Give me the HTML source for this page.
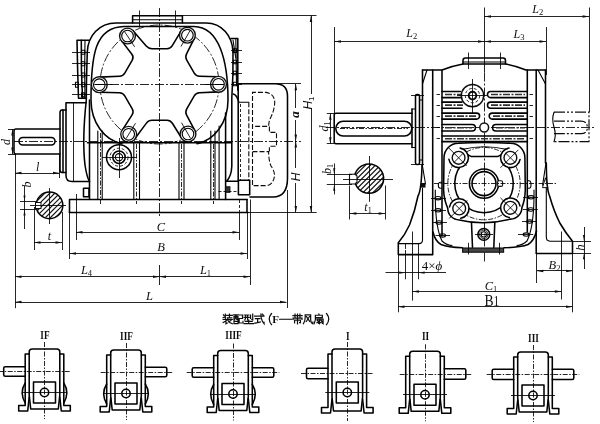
<!DOCTYPE html>
<html><head><meta charset="utf-8"><title>drawing</title>
<style>
html,body{margin:0;padding:0;background:#fff;}
body{width:600px;height:424px;overflow:hidden;font-family:"Liberation Serif",serif;}
svg{display:block;}
.k{fill:none;stroke:#000;stroke-width:1.55;stroke-linecap:round;stroke-linejoin:round}
.m{fill:none;stroke:#000;stroke-width:1.1;stroke-linecap:round;stroke-linejoin:round}
.t{fill:none;stroke:#000;stroke-width:0.85}
.c{fill:none;stroke:#000;stroke-width:0.85;stroke-dasharray:9 2 2 2}
.c2{fill:none;stroke:#000;stroke-width:0.85;stroke-dasharray:5 1.5 1.5 1.5}
.d{fill:none;stroke:#111;stroke-width:1.1;stroke-dasharray:5 2}
.dt{fill:none;stroke:#000;stroke-width:0.85;stroke-dasharray:3 2}
.a{fill:#111;stroke:none}
.ph{fill:none;stroke:#111;stroke-width:1.2;stroke-dasharray:11 2 2 2 2 2}
.k2{fill:none;stroke:#111;stroke-width:2}
.f{fill:#111;stroke:none}
.w{fill:#fff;stroke:#111;stroke-width:1.4}
.h{fill:none;stroke:#111;stroke-width:1.15}
text{fill:#111;font-family:"Liberation Serif",serif;}
text.i{font-style:italic}
text.n{font-style:normal}
text.si{font-style:italic;font-family:"Liberation Sans",sans-serif}
.cj{fill:none;stroke:#111;stroke-width:1.2;stroke-linecap:square;stroke-linejoin:miter}
</style></head><body>
<svg width="600" height="424" viewBox="0 0 600 424">
<rect x="0" y="0" width="600" height="424" fill="#fff"/>
<g filter="url(#soft)">
<path class="k" d="M132.6 23 V15.8 H182.4 V23"/>
<line class="m" x1="132.6" y1="19.7" x2="182.4" y2="19.7"/>
<line class="t" x1="139.5" y1="10.5" x2="139.5" y2="27.5"/>
<line class="t" x1="175.5" y1="10.5" x2="175.5" y2="27.5"/>
<line class="t" x1="182" y1="15.5" x2="316.5" y2="15.5"/>
<path class="k" d="M89.5 181.4 Q87 178 85 165 Q82 140 86.3 100 C86.3 80 87 62 87.3 52 C87.8 36 99 23 116 23 H206 C222 23 232.5 36 233 52"/>
<path class="k" d="M122 143.7 C104 140 91 122 91 100 C91 55 95 27 124 26.5 H194 C219 27 228 60 228 100 C228 122 215 140 197 143.7"/>
<circle class="c" cx="159.5" cy="84.5" r="59.5"/>
<path class="k" d="M133.25 31.03 L146.21 46.05 Q148.5 48.7 152.0 48.7 L167.0 48.7 Q170.5 48.7 172.29 45.69 L180.87 31.31"/>
<path class="k" d="M194.2 38.59 L186.56 53.94 Q185.0 57.07 186.75 60.1 L194.25 73.1 Q196.0 76.13 199.5 76.22 L218.69 76.7"/>
<path class="k" d="M218.82 91.89 L199.5 92.72 Q196.0 92.87 194.25 95.9 L186.75 108.9 Q185.0 111.93 186.63 115.03 L194.73 130.47"/>
<path class="k" d="M181.55 138.02 L172.35 123.27 Q170.5 120.3 167.0 120.3 L152.0 120.3 Q148.5 120.3 146.42 123.11 L134.81 138.82"/>
<path class="k" d="M122.3 130.2 L132.11 114.88 Q134.0 111.93 132.25 108.9 L124.75 95.9 Q123.0 92.87 119.5 92.79 L99.12 92.3"/>
<path class="k" d="M98.99 77.11 L119.5 76.27 Q123.0 76.13 124.75 73.1 L132.25 60.1 Q134.0 57.07 131.88 54.29 L121.45 40.61"/>
<circle class="w" cx="127.5" cy="36" r="7.9"/>
<circle class="m" cx="127.5" cy="36" r="5.8"/>
<line class="t" x1="134.7" y1="46.9" x2="124.7" y2="31.8"/>
<circle class="w" cx="187.4" cy="35.2" r="7.9"/>
<circle class="m" cx="187.4" cy="35.2" r="5.8"/>
<line class="t" x1="181.0" y1="46.5" x2="189.9" y2="30.8"/>
<circle class="w" cx="218.5" cy="84.3" r="7.9"/>
<circle class="m" cx="218.5" cy="84.3" r="5.8"/>
<line class="t" x1="205.5" y1="84.5" x2="223.5" y2="84.5"/>
<circle class="w" cx="188" cy="134" r="7.9"/>
<circle class="m" cx="188" cy="134" r="5.8"/>
<line class="t" x1="181.5" y1="122.7" x2="190.5" y2="138.3"/>
<circle class="w" cx="128.7" cy="134.3" r="7.9"/>
<circle class="m" cx="128.7" cy="134.3" r="5.8"/>
<line class="t" x1="135.5" y1="123.2" x2="126.1" y2="138.6"/>
<circle class="w" cx="99.3" cy="84.7" r="7.9"/>
<circle class="m" cx="99.3" cy="84.7" r="5.8"/>
<line class="t" x1="112.3" y1="84.5" x2="94.3" y2="84.5"/>
<line class="c" x1="95" y1="84.5" x2="224" y2="84.5"/>
<line class="c" x1="159.5" y1="8" x2="159.5" y2="218"/>
<line class="t" x1="159.5" y1="265" x2="159.5" y2="285"/>
<line class="k" x1="87.5" y1="142.8" x2="231.5" y2="142.8"/>
<line class="c" x1="14" y1="141.5" x2="301" y2="141.5"/>
<path class="k" d="M89 40.2 H77 Q77.5 70 78.5 98.2 H86.3"/>
<path class="k" d="M81.3 40.2 Q81 70 82.5 98"/>
<path class="m" d="M85 40.2 Q84.3 70 85 98"/>
<line class="t" x1="72" y1="52.5" x2="90" y2="52.5"/>
<rect class="m" x="81.5" y="50.3" width="3.3" height="4" rx="0"/>
<line class="t" x1="72" y1="63.5" x2="90" y2="63.5"/>
<rect class="m" x="81.5" y="61.7" width="3.3" height="4" rx="0"/>
<line class="t" x1="72" y1="75.5" x2="90" y2="75.5"/>
<rect class="m" x="81.5" y="73" width="3.3" height="4" rx="0"/>
<line class="t" x1="72" y1="84.5" x2="90" y2="84.5"/>
<rect class="m" x="81.5" y="82.8" width="3.3" height="4" rx="0"/>
<line class="t" x1="72" y1="94.5" x2="90" y2="94.5"/>
<rect class="m" x="81.5" y="92.9" width="3.3" height="4" rx="0"/>
<rect class="m" x="75.5" y="82.3" width="3" height="5" rx="0"/>
<path class="k" d="M231 38.5 H237.8 V90 M233.3 94 Q237 95 239 102.6"/>
<path class="m" d="M235.8 38.5 L236.5 84"/>
<path class="m" d="M233 40 L235.8 58"/>
<line class="t" x1="231" y1="50.5" x2="242" y2="50.5"/>
<rect class="m" x="233.3" y="48.800000000000004" width="3.3" height="3.6" rx="0"/>
<line class="t" x1="231" y1="62.5" x2="242" y2="62.5"/>
<rect class="m" x="233.3" y="60.2" width="3.3" height="3.6" rx="0"/>
<line class="t" x1="231" y1="73.5" x2="242" y2="73.5"/>
<rect class="m" x="233.3" y="71.2" width="3.3" height="3.6" rx="0"/>
<line class="t" x1="231" y1="84.5" x2="242" y2="84.5"/>
<rect class="m" x="233.3" y="82.2" width="3.3" height="3.6" rx="0"/>
<path class="k" d="M86.3 102.7 H66 V175.5 Q66 181.5 72 181.5 H89.5"/>
<line class="t" x1="73.5" y1="102.7" x2="73.5" y2="181.5"/>
<path class="k" d="M66 110 H62 Q60 110 60 113 V170 Q60 172.5 62 172.5 H66"/>
<line class="k" x1="63" y1="110" x2="63" y2="172.5"/>
<path class="k" d="M60 129 H16 Q14 129 14 131 V152 Q14 154 16 154 H60"/>
<rect class="k" x="19" y="137.5" width="36" height="7.5" rx="3.7"/>
<line class="m" x1="97.8" y1="131" x2="97.8" y2="199.5"/>
<line class="m" x1="102.2" y1="131" x2="102.2" y2="199.5"/>
<line class="k" x1="89.5" y1="100" x2="89.5" y2="199"/>
<line class="m" x1="133.8" y1="143" x2="133.8" y2="199.5"/>
<line class="m" x1="139.5" y1="143" x2="139.5" y2="199.5"/>
<line class="m" x1="179" y1="143" x2="179" y2="199.5"/>
<line class="m" x1="184" y1="143" x2="184" y2="199.5"/>
<line class="m" x1="210.8" y1="131" x2="210.8" y2="199.5"/>
<line class="m" x1="215" y1="131" x2="215" y2="199.5"/>
<line class="c2" x1="100.5" y1="133" x2="100.5" y2="204"/>
<line class="c2" x1="136.5" y1="144" x2="136.5" y2="204"/>
<line class="c2" x1="181.5" y1="144" x2="181.5" y2="204"/>
<line class="c2" x1="213.5" y1="144" x2="213.5" y2="204"/>
<rect class="k" x="83.5" y="188.2" width="5.5" height="8.5" rx="0"/>
<circle class="k" cx="119" cy="157.2" r="12.5"/>
<circle class="dt" cx="119" cy="157.2" r="9"/>
<circle class="k" cx="119" cy="157.2" r="6.2"/>
<circle class="m" cx="119" cy="157.2" r="3.6"/>
<line class="t" x1="119.5" y1="138" x2="119.5" y2="178"/>
<line class="t" x1="102" y1="157.5" x2="137" y2="157.5"/>
<line class="k" x1="225.6" y1="113" x2="225.6" y2="199.5"/>
<line class="m" x1="219.1" y1="126" x2="219.1" y2="199.5"/>
<path class="k" d="M233 52 Q233.4 75 231.8 98 V166 Q231.5 176 226.5 181.3 H238.4"/>
<rect x="225.6" y="186.8" width="4.3" height="5.5" fill="#333" stroke="#111" stroke-width="1"/>
<line class="dt" x1="218.5" y1="191.5" x2="238.4" y2="191.5"/>
<line class="k" x1="238.2" y1="83.8" x2="238.2" y2="180.3"/>
<path class="m" d="M240.3 102.2 H248.8"/>
<line class="dt" x1="240.5" y1="104" x2="240.5" y2="180"/>
<line class="d" x1="248.8" y1="102.2" x2="248.8" y2="180"/>
<rect class="k" x="238.4" y="180.3" width="11.3" height="14.4" rx="0"/>
<path class="k" d="M237.8 83.8 H275 Q287.5 83.8 287.5 96 V178 Q287.5 197 273 197 H250"/>
<line class="t" x1="275" y1="83.5" x2="301" y2="83.5"/>
<path class="d" d="M252.5 185 V92.4 H266 Q274.7 94 274.7 102.5 Q274.5 110 270.5 118 Q268.6 122 268.6 126.4 H252.5"/>
<path class="d" d="M252.5 151.6 H268.6 Q268.6 160 271 166 Q275 172 274.5 176 Q273 185.6 266 185.6 H252.5"/>
<path class="d" d="M269.4 126.4 V132.4 H276.5 V146.3 H269.4 V151.6"/>
<path class="k" d="M69.5 199.5 H247 M69.5 199.5 V212.5"/>
<line class="k" x1="69.5" y1="212.5" x2="248" y2="212.5"/>
<line class="t" x1="248" y1="212.5" x2="316.7" y2="212.5"/>
<line class="k" x1="247" y1="199.5" x2="247" y2="212.5"/>
<clipPath id="kc1"><circle cx="49.5" cy="205.4" r="13"/></clipPath>
<g clip-path="url(#kc1)"><line class="h" x1="-12.5" y1="225.5" x2="27.5" y2="185.5"/><line class="h" x1="-7.5" y1="225.5" x2="32.5" y2="185.5"/><line class="h" x1="-2.5" y1="225.5" x2="37.5" y2="185.5"/><line class="h" x1="2.5" y1="225.5" x2="42.5" y2="185.5"/><line class="h" x1="7.5" y1="225.5" x2="47.5" y2="185.5"/><line class="h" x1="12.5" y1="225.5" x2="52.5" y2="185.5"/><line class="h" x1="17.5" y1="225.5" x2="57.5" y2="185.5"/><line class="h" x1="22.5" y1="225.5" x2="62.5" y2="185.5"/><line class="h" x1="27.5" y1="225.5" x2="67.5" y2="185.5"/><line class="h" x1="32.5" y1="225.5" x2="72.5" y2="185.5"/><line class="h" x1="37.5" y1="225.5" x2="77.5" y2="185.5"/><line class="h" x1="42.5" y1="225.5" x2="82.5" y2="185.5"/><line class="h" x1="47.5" y1="225.5" x2="87.5" y2="185.5"/><line class="h" x1="52.5" y1="225.5" x2="92.5" y2="185.5"/><line class="h" x1="57.5" y1="225.5" x2="97.5" y2="185.5"/><line class="h" x1="62.5" y1="225.5" x2="102.5" y2="185.5"/><line class="h" x1="67.5" y1="225.5" x2="107.5" y2="185.5"/></g>
<circle class="k" cx="49.5" cy="205.4" r="13.3"/>
<rect x="35.5" y="202.5" width="5.5" height="6" fill="#fff" stroke="#111" stroke-width="1"/>
<line class="t" x1="49.5" y1="188" x2="49.5" y2="224"/>
<line class="t" x1="30" y1="205.5" x2="66" y2="205.5"/>
<line class="t" x1="20" y1="201.5" x2="36" y2="201.5"/>
<line class="t" x1="20" y1="209.5" x2="36" y2="209.5"/>
<line class="t" x1="24.5" y1="186" x2="24.5" y2="229"/>
<polygon class="a" points="24.5,201.5 23.5,195.5 25.5,195.5"/>
<polygon class="a" points="24.5,209.5 23.5,215.5 25.5,215.5"/>
<text class="i" x="31" y="184.5" font-size="12" text-anchor="middle" transform="rotate(-90 31 184.5)">b</text>
<line class="t" x1="34.5" y1="207" x2="34.5" y2="250"/>
<line class="t" x1="62.5" y1="212" x2="62.5" y2="250"/>
<line class="t" x1="34" y1="242.5" x2="62" y2="242.5"/>
<polygon class="a" points="34,242.5 40.5,241.25 40.5,243.75"/>
<polygon class="a" points="62,242.5 55.5,241.25 55.5,243.75"/>
<text class="i" x="49.5" y="240" font-size="12" text-anchor="middle">t</text>
<line class="t" x1="8" y1="129.5" x2="14" y2="129.5"/>
<line class="t" x1="8" y1="154.5" x2="16" y2="154.5"/>
<line class="t" x1="12.5" y1="129" x2="12.5" y2="154"/>
<polygon class="a" points="12.5,129 11.25,135.5 13.75,135.5"/>
<polygon class="a" points="12.5,154 11.25,147.5 13.75,147.5"/>
<text class="i" x="10" y="142" font-size="12" text-anchor="middle" transform="rotate(-90 10 142)">d</text>
<line class="t" x1="15.5" y1="154" x2="15.5" y2="308.2"/>
<line class="t" x1="59.5" y1="154" x2="59.5" y2="178"/>
<line class="t" x1="15" y1="173.5" x2="59.5" y2="173.5"/>
<polygon class="a" points="15,173 21.5,171.75 21.5,174.25"/>
<polygon class="a" points="59.5,173 53.0,171.75 53.0,174.25"/>
<text class="i" x="37.6" y="170.5" font-size="12" text-anchor="middle">l</text>
<line class="t" x1="76.5" y1="194" x2="76.5" y2="240"/>
<line class="dt" x1="239.5" y1="200" x2="239.5" y2="213"/>
<line class="t" x1="239.5" y1="213" x2="239.5" y2="240"/>
<line class="t" x1="76" y1="232.5" x2="239" y2="232.5"/>
<polygon class="a" points="76,232.2 82.5,230.95 82.5,233.45"/>
<polygon class="a" points="239,232.2 232.5,230.95 232.5,233.45"/>
<text class="i" x="161" y="231.3" font-size="12.5" text-anchor="middle">C</text>
<line class="t" x1="69.5" y1="212.5" x2="69.5" y2="259"/>
<line class="t" x1="247.5" y1="212.5" x2="247.5" y2="259"/>
<line class="t" x1="69.5" y1="253.5" x2="247" y2="253.5"/>
<polygon class="a" points="69.5,253.4 76.0,252.15 76.0,254.65"/>
<polygon class="a" points="247,253.4 240.5,252.15 240.5,254.65"/>
<text class="i" x="161" y="250.8" font-size="12.5" text-anchor="middle">B</text>
<line class="t" x1="250.5" y1="199.5" x2="250.5" y2="285"/>
<line class="t" x1="15" y1="276.5" x2="159.5" y2="276.5"/>
<polygon class="a" points="15,276.8 21.5,275.55 21.5,278.05"/>
<polygon class="a" points="159.5,276.8 153.0,275.55 153.0,278.05"/>
<line class="t" x1="159.5" y1="276.5" x2="250" y2="276.5"/>
<polygon class="a" points="159.5,276.8 166.0,275.55 166.0,278.05"/>
<polygon class="a" points="250,276.8 243.5,275.55 243.5,278.05"/>
<text class="i" x="86.5" y="274" font-size="12.5" text-anchor="middle">L<tspan font-size="8.5" dy="2" font-style="normal">4</tspan></text>
<text class="i" x="205.5" y="274" font-size="12.5" text-anchor="middle">L<tspan font-size="8.5" dy="2" font-style="normal">1</tspan></text>
<line class="t" x1="287.5" y1="190" x2="287.5" y2="308"/>
<line class="t" x1="15" y1="302.5" x2="286.5" y2="302.5"/>
<polygon class="a" points="15,302 21.5,300.75 21.5,303.25"/>
<polygon class="a" points="286.5,302 280.0,300.75 280.0,303.25"/>
<text class="i" x="149.5" y="299.7" font-size="12.5" text-anchor="middle">L</text>
<line class="t" x1="295.5" y1="83.8" x2="295.5" y2="212.5"/>
<polygon class="a" points="295.8,83.8 294.55,90.3 297.05,90.3"/>
<polygon class="a" points="295.8,141 294.55,134.5 297.05,134.5"/>
<polygon class="a" points="295.8,141 294.55,147.5 297.05,147.5"/>
<polygon class="a" points="295.8,212.5 294.55,206.0 297.05,206.0"/>
<rect x="291" y="108" width="10" height="12" fill="#fff"/><rect x="290" y="168" width="12" height="15" fill="#fff"/>
<text class="i" x="299.3" y="114.5" font-size="13.5" font-weight="bold" text-anchor="middle" transform="rotate(-90 299.3 114.5)">a</text>
<text class="si" x="300" y="177" font-size="12" text-anchor="middle" transform="rotate(-90 300 177)">H</text>
<line class="t" x1="311.5" y1="15.5" x2="311.5" y2="212.5"/>
<polygon class="a" points="311,15.5 309.75,22.0 312.25,22.0"/>
<polygon class="a" points="311,212.5 309.75,206.0 312.25,206.0"/>
<rect x="309" y="94" width="5" height="15" fill="#fff"/>
<text class="si" x="312.3" y="103" font-size="12" text-anchor="middle" transform="rotate(-90 312.3 103)">H<tspan font-size="8" dy="2" font-style="normal">1</tspan></text>
<path class="k" d="M463 64 V60.5 Q463 58 465.5 58 H503 Q505.5 58 505.5 60.5 V64"/>
<line class="m" x1="463" y1="62" x2="505.5" y2="62"/>
<line class="t" x1="468.5" y1="52.5" x2="468.5" y2="69"/>
<line class="t" x1="500.5" y1="52.5" x2="500.5" y2="69"/>
<path class="k" d="M422.5 70 H442 Q452 66 463 64 H505.5 Q516 66 526 70 H545.5"/>
<path class="k" d="M422.5 70 V165"/>
<line class="k" x1="432.7" y1="70" x2="432.7" y2="254.6"/>
<line class="k" x1="442" y1="70.5" x2="442" y2="236"/>
<line class="k" x1="527.3" y1="70" x2="527.3" y2="232"/>
<line class="k" x1="536.2" y1="70" x2="536.2" y2="253.4"/>
<path class="k" d="M545.5 70 V163"/>
<path class="m" d="M538 70 L545.5 84"/>
<path class="m" d="M427 70 L422.6 83.5"/>
<line class="t" x1="484.5" y1="7.5" x2="484.5" y2="72.5"/>
<line class="c" x1="484.5" y1="72.5" x2="484.5" y2="262"/>
<line class="c" x1="326" y1="127.5" x2="596" y2="127.5"/>
<path class="k" d="M442 91.4 H460.5 M460.5 97.6 H442"/>
<path class="k" d="M490.6 91.4 H527.3 M527.3 97.6 H490.6 A3.0999999999999943 3.0999999999999943 0 0 1 490.6 91.4"/>
<path class="k" d="M442 102.1 H462 M462 108.2 H442"/>
<path class="k" d="M490.55 102.1 H527.3 M527.3 108.2 H490.55 A3.0500000000000043 3.0500000000000043 0 0 1 490.55 102.1"/>
<path class="k" d="M442 113.1 H476.6 A3.0 3.0 0 0 1 476.6 119.1 H442"/>
<path class="k" d="M492.2 113.1 H527.3 M527.3 119.1 H492.2 A3.0 3.0 0 0 1 492.2 113.1"/>
<path class="k" d="M442 124.4 H472.09999999999997 A3.299999999999997 3.299999999999997 0 0 1 472.09999999999997 131 H442"/>
<path class="k" d="M495.90000000000003 124.4 H527.3 M527.3 131 H495.90000000000003 A3.299999999999997 3.299999999999997 0 0 1 495.90000000000003 124.4"/>
<path class="k" d="M442 136 H527.3 M527.3 141.6 H442"/>
<line x1="445" y1="94.5" x2="461" y2="94.5" stroke="#333" stroke-width="1.6" stroke-dasharray="7 1.5 2 1.5"/>
<line x1="491" y1="94.5" x2="525" y2="94.5" stroke="#333" stroke-width="1.6" stroke-dasharray="7 1.5 2 1.5"/>
<line class="t" x1="436.5" y1="94.5" x2="440" y2="94.5"/>
<line class="t" x1="529.5" y1="94.5" x2="533" y2="94.5"/>
<line x1="445" y1="105.15" x2="463" y2="105.15" stroke="#333" stroke-width="1.6" stroke-dasharray="7 1.5 2 1.5"/>
<line x1="491" y1="105.15" x2="525" y2="105.15" stroke="#333" stroke-width="1.6" stroke-dasharray="7 1.5 2 1.5"/>
<line class="t" x1="436.5" y1="105.5" x2="440" y2="105.5"/>
<line class="t" x1="529.5" y1="105.5" x2="533" y2="105.5"/>
<line x1="445" y1="116.1" x2="477" y2="116.1" stroke="#333" stroke-width="1.6" stroke-dasharray="7 1.5 2 1.5"/>
<line x1="493" y1="116.1" x2="525" y2="116.1" stroke="#333" stroke-width="1.6" stroke-dasharray="7 1.5 2 1.5"/>
<line class="t" x1="436.5" y1="116.5" x2="440" y2="116.5"/>
<line class="t" x1="529.5" y1="116.5" x2="533" y2="116.5"/>
<line x1="445" y1="127.7" x2="472" y2="127.7" stroke="#333" stroke-width="1.6" stroke-dasharray="7 1.5 2 1.5"/>
<line x1="496" y1="127.7" x2="525" y2="127.7" stroke="#333" stroke-width="1.6" stroke-dasharray="7 1.5 2 1.5"/>
<line class="t" x1="436.5" y1="127.5" x2="440" y2="127.5"/>
<line class="t" x1="529.5" y1="127.5" x2="533" y2="127.5"/>
<line x1="445" y1="138.8" x2="525" y2="138.8" stroke="#333" stroke-width="1.6" stroke-dasharray="7 1.5 2 1.5"/>
<line class="t" x1="436.5" y1="138.5" x2="440" y2="138.5"/>
<line class="t" x1="529.5" y1="138.5" x2="533" y2="138.5"/>
<circle cx="472.5" cy="95.6" r="11.2" fill="#fff" stroke="#111" stroke-width="1.5"/>
<circle class="dt" cx="472.5" cy="95.6" r="7.2"/>
<circle class="k2" cx="472.5" cy="95.6" r="3.8"/>
<line class="t" x1="472.5" y1="79" x2="472.5" y2="113"/>
<line class="t" x1="457" y1="95.5" x2="488" y2="95.5"/>
<circle cx="484.2" cy="127.5" r="4.4" fill="#fff" stroke="#111" stroke-width="1.5"/>
<path class="k" d="M412 113.3 H336 Q334.2 113.3 334.2 115 V142 Q334.2 143.7 336 143.7 H412"/>
<rect class="k" x="335.8" y="121.2" width="76" height="14.8" rx="7.4"/>
<line class="c2" x1="340" y1="128.5" x2="408" y2="128.5"/>
<path class="k" d="M412 109 V147.5"/>
<rect class="k" x="415.5" y="94.5" width="4" height="70" rx="1.5"/>
<line class="m" x1="419.5" y1="100" x2="422.5" y2="100"/>
<line class="m" x1="419.5" y1="160" x2="422.5" y2="160"/>
<line class="m" x1="412" y1="109" x2="415.5" y2="109"/>
<line class="m" x1="412" y1="147.5" x2="415.5" y2="147.5"/>
<line class="t" x1="411" y1="95.5" x2="424" y2="95.5"/>
<line class="t" x1="411" y1="164.5" x2="424" y2="164.5"/>
<path class="ph" d="M554 112.2 H589 V141.7 H554"/>
<path class="m" d="M554 112.2 Q551.5 119 554 127 Q556.5 135 554 141.7"/>
<path class="ph" d="M554 121.2 H581 Q587.3 121.2 587.3 127.5 Q587.3 133.7 581 133.7 H554"/>
<path class="k" d="M458.5 143.3 Q484 141.8 510.4 143.3 A14.5 14.5 0 0 1 524.9 157.8 L525.3 190 Q525 200 521.9 207.6 A11.5 11.5 0 0 1 510.4 219.1 Q484 226 459.3 219.9 A11.5 11.5 0 0 1 447.8 208.4 Q444 200 443.6 190 L444 157.8 A14.5 14.5 0 0 1 458.5 143.3 Z"/>
<path class="m" d="M463 149.3 Q484 144.3 506 149.3"/>
<circle class="c2" cx="484" cy="183.6" r="36.2"/>
<path class="k" d="M502.8 161.2 A29.2 29.2 0 1 1 465.2 161.2"/>
<path class="k" d="M465 153.5 L471 156.4 H498 L504 153.5"/>
<circle cx="458.6" cy="157.8" r="9.8" fill="#fff" stroke="none"/>
<path class="k" d="M460.20 148.13 A9.8 9.8 0 1 1 448.91 159.25"/>
<circle cx="510.4" cy="157.8" r="9.8" fill="#fff" stroke="none"/>
<path class="k" d="M520.06 159.44 A9.8 9.8 0 1 1 508.99 148.10"/>
<circle cx="510.4" cy="207.8" r="9.8" fill="#fff" stroke="none"/>
<path class="k" d="M509.30 217.54 A9.8 9.8 0 1 1 520.01 205.86"/>
<circle cx="459.2" cy="208.5" r="9.8" fill="#fff" stroke="none"/>
<path class="k" d="M449.52 206.99 A9.8 9.8 0 1 1 460.74 218.18"/>
<circle cx="458.6" cy="157.8" r="6.4" fill="#fff" stroke="#111" stroke-width="1.4"/>
<line class="t" x1="448.6" y1="147.8" x2="466.6" y2="165.8"/>
<line class="t" x1="454.1" y1="162.3" x2="463.1" y2="153.3"/>
<circle cx="510.4" cy="157.8" r="6.4" fill="#fff" stroke="#111" stroke-width="1.4"/>
<line class="t" x1="500.4" y1="167.8" x2="518.4" y2="149.8"/>
<line class="t" x1="505.9" y1="153.3" x2="514.9" y2="162.3"/>
<circle cx="510.4" cy="207.8" r="6.4" fill="#fff" stroke="#111" stroke-width="1.4"/>
<line class="t" x1="500.4" y1="197.8" x2="518.4" y2="215.8"/>
<line class="t" x1="505.9" y1="212.3" x2="514.9" y2="203.3"/>
<circle cx="459.2" cy="208.5" r="6.4" fill="#fff" stroke="#111" stroke-width="1.4"/>
<line class="t" x1="449.2" y1="218.5" x2="467.2" y2="200.5"/>
<line class="t" x1="454.7" y1="204.0" x2="463.7" y2="213.0"/>
<circle class="k" cx="484" cy="183.6" r="14.6"/>
<circle class="k" cx="484" cy="183.6" r="12"/>
<rect x="497.6" y="180.8" width="5" height="5.6" rx="1.5" fill="#fff" stroke="#111" stroke-width="1.1"/>
<line class="c2" x1="434" y1="183.5" x2="556" y2="183.5"/>
<path class="k" d="M471.5 222.8 L472.5 247.5 M494.8 222.8 L493.8 247.5"/>
<circle class="k" cx="483.8" cy="234.4" r="5.9"/>
<circle class="m" cx="483.8" cy="234.4" r="2.6"/>
<circle class="t" cx="483.8" cy="234.4" r="4.2"/>
<line class="t" x1="475" y1="234.5" x2="493" y2="234.5"/>
<path class="k" d="M433 232 Q435 241 441 244.5 Q448 247.3 462.5 247.8"/>
<path class="m" d="M435.3 190 V198 Q435.5 228 442 241 Q446 245 452 245.5"/>
<path class="k" d="M536.5 231 Q534 241 528 244.5 Q521 247.3 504 247.8"/>
<path class="m" d="M534 190 V198 Q533.5 228 527 241 Q523 245 517 245.5"/>
<rect x="462.6" y="248" width="41" height="4.2" fill="#444" stroke="#111" stroke-width="1.1"/>
<line class="t" x1="468.5" y1="242.8" x2="468.5" y2="254.5"/>
<line class="t" x1="499.5" y1="242.8" x2="499.5" y2="254.5"/>
<ellipse class="m" cx="438" cy="198.2" rx="3" ry="1.7"/>
<line class="t" x1="431" y1="198.5" x2="446" y2="198.5"/>
<ellipse class="m" cx="438" cy="210.3" rx="3" ry="1.7"/>
<line class="t" x1="431" y1="210.5" x2="446" y2="210.5"/>
<ellipse class="m" cx="439" cy="222.5" rx="3" ry="1.7"/>
<line class="t" x1="432" y1="222.5" x2="447" y2="222.5"/>
<ellipse class="m" cx="442.5" cy="235.5" rx="3" ry="1.7"/>
<line class="t" x1="435.5" y1="235.5" x2="450" y2="235.5"/>
<ellipse class="m" cx="531" cy="197.3" rx="3" ry="1.7"/>
<line class="t" x1="538" y1="197.5" x2="523" y2="197.5"/>
<ellipse class="m" cx="530.8" cy="209.5" rx="3" ry="1.7"/>
<line class="t" x1="537.8" y1="209.5" x2="523" y2="209.5"/>
<ellipse class="m" cx="529.7" cy="221.6" rx="3" ry="1.7"/>
<line class="t" x1="536.7" y1="221.5" x2="522" y2="221.5"/>
<ellipse class="m" cx="526.2" cy="234.6" rx="3" ry="1.7"/>
<line class="t" x1="533.2" y1="234.5" x2="518" y2="234.5"/>
<path class="m" d="M442 182.3 H440.5 Q438.3 182.3 438.3 185.3 Q438.3 188.3 440.5 188.3 H442"/>
<path class="m" d="M527.5 180.8 H529 Q531 180.8 531 184.5 Q531 188.3 529 188.3 H527.5"/>
<path class="k" d="M422 165 Q421.5 190 418 196 Q415 211 409.6 224.7 Q405 235 398.3 242.8 V254.6 H432.5"/>
<path class="m" d="M398.3 243.6 H419 Q422.5 243.6 422.5 240 V188"/>
<path class="m" d="M422.3 165 L425.5 184"/>
<path d="M421 183 H425.5 V187.6 H421 Z" fill="#111"/>
<path class="k" d="M546.3 163 Q546.5 190 549.6 196 Q553.8 211 559.8 223 Q566 233.5 572.5 241.2 V253.4 H536.5"/>
<path class="m" d="M572.5 241.2 H550 Q546.3 241 546.3 237 V188"/>
<path class="m" d="M546 163 L542.6 185"/>
<path d="M542.5 187.6 L545.5 177.8 L547.8 187.6 Z" fill="none" stroke="#111" stroke-width="1"/>
<line class="t" x1="405.5" y1="243.6" x2="405.5" y2="279.3"/>
<line class="t" x1="412.5" y1="231.5" x2="412.5" y2="300.6"/>
<line class="t" x1="418.5" y1="243.6" x2="418.5" y2="279.3"/>
<line class="t" x1="561.5" y1="231.5" x2="561.5" y2="299.5"/>
<line x1="399" y1="249.5" x2="420" y2="249.5" stroke="#fff" stroke-width="1.2" stroke-dasharray="2 3"/>
<line class="t" x1="589.5" y1="7.5" x2="589.5" y2="112"/>
<line class="t" x1="484.5" y1="16.5" x2="589" y2="16.5"/>
<polygon class="a" points="484.5,16.5 491.0,15.25 491.0,17.75"/>
<polygon class="a" points="589,16.5 582.5,15.25 582.5,17.75"/>
<text class="i" x="537.7" y="13.3" font-size="12" text-anchor="middle">L<tspan font-size="8.5" dy="2" font-style="normal">2</tspan></text>
<line class="t" x1="546.5" y1="27" x2="546.5" y2="75"/>
<line class="t" x1="484.5" y1="41.5" x2="546" y2="41.5"/>
<polygon class="a" points="484.5,41.5 491.0,40.25 491.0,42.75"/>
<polygon class="a" points="546,41.5 539.5,40.25 539.5,42.75"/>
<text class="i" x="519" y="37.7" font-size="12" text-anchor="middle">L<tspan font-size="8.5" dy="2" font-style="normal">3</tspan></text>
<line class="t" x1="334.5" y1="27" x2="334.5" y2="113"/>
<line class="t" x1="334.5" y1="41.5" x2="484.5" y2="41.5"/>
<polygon class="a" points="334.5,41.5 341.0,40.25 341.0,42.75"/>
<polygon class="a" points="484.5,41.5 478.0,40.25 478.0,42.75"/>
<text class="i" x="411.7" y="37.3" font-size="12" text-anchor="middle">L<tspan font-size="8.5" dy="2" font-style="normal">2</tspan></text>
<line class="t" x1="326.8" y1="113.5" x2="334" y2="113.5"/>
<line class="t" x1="326.8" y1="143.5" x2="334" y2="143.5"/>
<line class="t" x1="330.5" y1="113.3" x2="330.5" y2="143.7"/>
<polygon class="a" points="330.3,113.3 329.05,119.8 331.55,119.8"/>
<polygon class="a" points="330.3,143.7 329.05,137.2 331.55,137.2"/>
<text class="i" x="328" y="126.5" font-size="12" text-anchor="middle" transform="rotate(-90 328 126.5)">d<tspan font-size="8" dy="2" font-style="normal">1</tspan></text>
<clipPath id="kc2"><circle cx="369" cy="178.6" r="14.3"/></clipPath>
<g clip-path="url(#kc2)"><line class="h" x1="307" y1="198.6" x2="347" y2="158.6"/><line class="h" x1="312" y1="198.6" x2="352" y2="158.6"/><line class="h" x1="317" y1="198.6" x2="357" y2="158.6"/><line class="h" x1="322" y1="198.6" x2="362" y2="158.6"/><line class="h" x1="327" y1="198.6" x2="367" y2="158.6"/><line class="h" x1="332" y1="198.6" x2="372" y2="158.6"/><line class="h" x1="337" y1="198.6" x2="377" y2="158.6"/><line class="h" x1="342" y1="198.6" x2="382" y2="158.6"/><line class="h" x1="347" y1="198.6" x2="387" y2="158.6"/><line class="h" x1="352" y1="198.6" x2="392" y2="158.6"/><line class="h" x1="357" y1="198.6" x2="397" y2="158.6"/><line class="h" x1="362" y1="198.6" x2="402" y2="158.6"/><line class="h" x1="367" y1="198.6" x2="407" y2="158.6"/><line class="h" x1="372" y1="198.6" x2="412" y2="158.6"/><line class="h" x1="377" y1="198.6" x2="417" y2="158.6"/><line class="h" x1="382" y1="198.6" x2="422" y2="158.6"/><line class="h" x1="387" y1="198.6" x2="427" y2="158.6"/></g>
<circle class="k" cx="369" cy="178.6" r="14.6"/>
<path d="M349.5 174.3 H355 L357 176 V182 L355 184 H349.5 Z" fill="#fff" stroke="#111" stroke-width="1.1"/>
<line class="t" x1="369.5" y1="156" x2="369.5" y2="201.8"/>
<line class="t" x1="343" y1="179.5" x2="393" y2="179.5"/>
<line class="t" x1="326.8" y1="174.5" x2="352" y2="174.5"/>
<line class="t" x1="326.8" y1="184.5" x2="352" y2="184.5"/>
<line class="t" x1="334.5" y1="163.4" x2="334.5" y2="194.4"/>
<polygon class="a" points="334.2,174.3 333.09999999999997,168.3 335.3,168.3"/>
<polygon class="a" points="334.2,184.7 333.09999999999997,190.7 335.3,190.7"/>
<text class="i" x="331" y="169" font-size="12" text-anchor="middle" transform="rotate(-90 331 169)">b<tspan font-size="8" dy="2" font-style="normal">1</tspan></text>
<line class="t" x1="349.5" y1="185.5" x2="349.5" y2="219.5"/>
<line class="t" x1="385.5" y1="185.5" x2="385.5" y2="219.5"/>
<line class="t" x1="349.8" y1="213.5" x2="385.2" y2="213.5"/>
<polygon class="a" points="349.8,213.6 356.3,212.35 356.3,214.85"/>
<polygon class="a" points="385.2,213.6 378.7,212.35 378.7,214.85"/>
<text class="i" x="368" y="211" font-size="12" text-anchor="middle">t<tspan font-size="8" dy="2" font-style="normal">1</tspan></text>
<line class="t" x1="385.5" y1="272.5" x2="446" y2="272.5"/>
<polygon class="a" points="405.2,272.7 399.2,271.59999999999997 399.2,273.8"/>
<polygon class="a" points="418.7,272.7 424.7,271.59999999999997 424.7,273.8"/>
<text class="n" x="432" y="270" font-size="13" text-anchor="middle">4×<tspan font-style="italic">ϕ</tspan></text>
<line class="t" x1="412.5" y1="291.5" x2="561.4" y2="291.5"/>
<polygon class="a" points="412.5,291.4 419.0,290.15 419.0,292.65"/>
<polygon class="a" points="561.4,291.4 554.9,290.15 554.9,292.65"/>
<text class="i" x="491" y="289.8" font-size="12.5" text-anchor="middle">C<tspan font-size="8.5" dy="2" font-style="normal">1</tspan></text>
<line class="t" x1="398.5" y1="254.6" x2="398.5" y2="312.3"/>
<line class="t" x1="572.5" y1="253.4" x2="572.5" y2="312.3"/>
<line class="t" x1="398" y1="306.5" x2="572.6" y2="306.5"/>
<polygon class="a" points="398,306.8 404.5,305.55 404.5,308.05"/>
<polygon class="a" points="572.6,306.8 566.1,305.55 566.1,308.05"/>
<text class="n" transform="translate(491.8 305.6) scale(0.8 1)" font-size="17" text-anchor="middle">B<tspan font-size="14">1</tspan></text>
<line class="t" x1="536.5" y1="253.4" x2="536.5" y2="283"/>
<line class="t" x1="536.8" y1="270.5" x2="572.6" y2="270.5"/>
<polygon class="a" points="536.8,270.9 543.3,269.65 543.3,272.15"/>
<polygon class="a" points="572.6,270.9 566.1,269.65 566.1,272.15"/>
<text class="i" x="554.5" y="269" font-size="12.5" text-anchor="middle">B<tspan font-size="8.5" dy="2" font-style="normal">2</tspan></text>
<line class="t" x1="572.7" y1="241.5" x2="591" y2="241.5"/>
<line class="t" x1="572.7" y1="253.5" x2="591" y2="253.5"/>
<line class="t" x1="584.5" y1="227" x2="584.5" y2="269"/>
<polygon class="a" points="584,241 582.9,235 585.1,235"/>
<polygon class="a" points="584,253.2 582.9,259.2 585.1,259.2"/>
<text class="si" x="583.5" y="247.5" font-size="11" text-anchor="middle" transform="rotate(-90 583.5 247.5)">h</text>
<text class="n" transform="translate(45.0 338.7) scale(0.74 1)" font-size="12.5" font-weight="bold" text-anchor="middle">IF</text>
<line class="c2" x1="44.5" y1="342" x2="44.5" y2="419"/>
<path class="k" d="M29.2 395 V352 Q29.2 349 32.2 349 H56.8 Q59.8 349 59.8 352 V395 L58.3 409 H30.7 Z"/>
<path class="k" d="M29.2 354 H25.2 V405.5 H18.7 V411 H27.7 L29.2 397"/>
<path class="k" d="M59.8 354 H63.8 V405.5 H70.3 V411 H61.3 L59.8 397"/>
<rect class="k" x="33.5" y="382" width="22" height="21" rx="0"/>
<circle class="k" cx="44.5" cy="392.5" r="4.2"/>
<line class="t" x1="22.5" y1="392.5" x2="66.5" y2="392.5"/>
<path class="k" d="M25.2 366.8 H5.199999999999999 Q3.6999999999999993 366.8 3.6999999999999993 368.3 V374.7 Q3.6999999999999993 376.2 5.199999999999999 376.2 H25.2"/>
<line class="c2" x1="-1.8000000000000007" y1="371.5" x2="69.8" y2="371.5"/>
<path class="k" d="M25.2 383 Q19.2 392.5 25.2 403"/>
<path class="k" d="M63.8 383 Q69.8 392.5 63.8 403"/>
<text class="n" transform="translate(126.5 339.8) scale(0.74 1)" font-size="12.5" font-weight="bold" text-anchor="middle">IIF</text>
<line class="c2" x1="126.5" y1="343" x2="126.5" y2="420"/>
<path class="k" d="M110.7 396 V353 Q110.7 350 113.7 350 H138.3 Q141.3 350 141.3 353 V396 L139.8 410 H112.2 Z"/>
<path class="k" d="M110.7 355 H106.7 V406.5 H100.2 V412 H109.2 L110.7 398"/>
<path class="k" d="M141.3 355 H145.3 V406.5 H151.8 V412 H142.8 L141.3 398"/>
<rect class="k" x="115" y="383" width="22" height="21" rx="0"/>
<circle class="k" cx="126" cy="393.5" r="4.2"/>
<line class="t" x1="104" y1="393.5" x2="148" y2="393.5"/>
<path class="k" d="M145.3 367.3 H165.3 Q166.8 367.3 166.8 368.8 V375.2 Q166.8 376.7 165.3 376.7 H145.3"/>
<line class="c2" x1="100.7" y1="372.5" x2="172.3" y2="372.5"/>
<path class="k" d="M106.7 384 Q100.7 393.5 106.7 404"/>
<path class="k" d="M145.3 384 Q151.3 393.5 145.3 404"/>
<text class="n" transform="translate(233.5 339.2) scale(0.74 1)" font-size="12.5" font-weight="bold" text-anchor="middle">IIIF</text>
<line class="c2" x1="233.5" y1="343.5" x2="233.5" y2="420.5"/>
<path class="k" d="M217.7 396.5 V353.5 Q217.7 350.5 220.7 350.5 H245.3 Q248.3 350.5 248.3 353.5 V396.5 L246.8 410.5 H219.2 Z"/>
<path class="k" d="M217.7 355.5 H213.7 V407.0 H207.2 V412.5 H216.2 L217.7 398.5"/>
<path class="k" d="M248.3 355.5 H252.3 V407.0 H258.8 V412.5 H249.8 L248.3 398.5"/>
<rect class="k" x="222" y="383.5" width="22" height="21" rx="0"/>
<circle class="k" cx="233" cy="394.0" r="4.2"/>
<line class="t" x1="211" y1="394.5" x2="255" y2="394.5"/>
<path class="k" d="M213.7 367.7 H193.7 Q192.2 367.7 192.2 369.2 V375.8 Q192.2 377.3 193.7 377.3 H213.7"/>
<path class="k" d="M252.3 367.7 H272.3 Q273.8 367.7 273.8 369.2 V375.8 Q273.8 377.3 272.3 377.3 H252.3"/>
<line class="c2" x1="186.7" y1="372.5" x2="279.3" y2="372.5"/>
<path class="k" d="M213.7 384.5 Q207.7 394.0 213.7 404.5"/>
<path class="k" d="M252.3 384.5 Q258.3 394.0 252.3 404.5"/>
<text class="n" transform="translate(347.8 340) scale(0.74 1)" font-size="12.5" font-weight="bold" text-anchor="middle">I</text>
<line class="c2" x1="347.5" y1="342" x2="347.5" y2="421"/>
<path class="k" d="M332.0 397 V352 Q332.0 349 335.0 349 H359.6 Q362.6 349 362.6 352 V397 L361.1 411 H333.5 Z"/>
<path class="k" d="M332.0 354 H328.0 V407.5 H321.5 V413 H330.5 L332.0 399"/>
<path class="k" d="M362.6 354 H366.6 V407.5 H373.1 V413 H364.1 L362.6 399"/>
<rect class="k" x="336.3" y="382" width="22" height="21" rx="0"/>
<circle class="k" cx="347.3" cy="392.5" r="4.2"/>
<line class="t" x1="325.3" y1="392.5" x2="369.3" y2="392.5"/>
<path class="k" d="M328.0 368.3 H308.0 Q306.5 368.3 306.5 369.8 V377.2 Q306.5 378.7 308.0 378.7 H328.0"/>
<line class="c2" x1="301.0" y1="373.5" x2="372.6" y2="373.5"/>
<text class="n" transform="translate(425.5 340.2) scale(0.74 1)" font-size="12.5" font-weight="bold" text-anchor="middle">II</text>
<line class="c2" x1="425.5" y1="344.3" x2="425.5" y2="421.3"/>
<path class="k" d="M409.7 397.3 V354.3 Q409.7 351.3 412.7 351.3 H437.3 Q440.3 351.3 440.3 354.3 V397.3 L438.8 411.3 H411.2 Z"/>
<path class="k" d="M409.7 356.3 H405.7 V407.8 H399.2 V413.3 H408.2 L409.7 399.3"/>
<path class="k" d="M440.3 356.3 H444.3 V407.8 H450.8 V413.3 H441.8 L440.3 399.3"/>
<rect class="k" x="414" y="384.3" width="22" height="21" rx="0"/>
<circle class="k" cx="425" cy="394.8" r="4.2"/>
<line class="t" x1="403" y1="394.5" x2="447" y2="394.5"/>
<path class="k" d="M444.3 368.8 H464.3 Q465.8 368.8 465.8 370.3 V377.7 Q465.8 379.2 464.3 379.2 H444.3"/>
<line class="c2" x1="399.7" y1="374.5" x2="471.3" y2="374.5"/>
<text class="n" transform="translate(533.5 341.7) scale(0.74 1)" font-size="12.5" font-weight="bold" text-anchor="middle">III</text>
<line class="c2" x1="533.5" y1="345" x2="533.5" y2="422"/>
<path class="k" d="M517.7 398 V355 Q517.7 352 520.7 352 H545.3 Q548.3 352 548.3 355 V398 L546.8 412 H519.2 Z"/>
<path class="k" d="M517.7 357 H513.7 V408.5 H507.20000000000005 V414 H516.2 L517.7 400"/>
<path class="k" d="M548.3 357 H552.3 V408.5 H558.8 V414 H549.8 L548.3 400"/>
<rect class="k" x="522" y="385" width="22" height="21" rx="0"/>
<circle class="k" cx="533" cy="395.5" r="4.2"/>
<line class="t" x1="511" y1="395.5" x2="555" y2="395.5"/>
<path class="k" d="M513.7 369.2 H493.70000000000005 Q492.20000000000005 369.2 492.20000000000005 370.7 V377.90000000000003 Q492.20000000000005 379.40000000000003 493.70000000000005 379.40000000000003 H513.7"/>
<path class="k" d="M552.3 369.2 H572.3 Q573.8 369.2 573.8 370.7 V377.90000000000003 Q573.8 379.40000000000003 572.3 379.40000000000003 H552.3"/>
<line class="c2" x1="486.70000000000005" y1="374.5" x2="579.3" y2="374.5"/>
<path class="cj" d="M225.35 314.0 L225.35 318.51 M223.39 314.78 L224.17 315.76 M223.09 317.72 L225.35 316.74 M226.72 315.47 L232.31 315.47 M229.46 314.0 L229.46 317.92 M227.31 317.92 L231.82 317.92 M227.7 318.31 L227.7 319.29 M223.19 319.49 L232.31 319.49 M227.31 319.49 L225.35 321.25 L223.09 322.43 M225.94 321.06 L225.94 323.8 L227.31 323.02 M227.9 320.27 L229.66 322.43 L232.4 323.8 M231.03 320.27 L228.88 321.84"/>
<path class="cj" d="M233.5 314.78 L238.4 314.78 M233.99 316.55 L238.0 316.55 L238.0 323.6 L233.99 323.6 L233.99 316.55 M235.36 314.78 L235.36 318.51 L234.67 319.49 M236.73 314.78 L236.73 319.29 L237.81 319.29 M233.99 321.45 L238.0 321.45 M239.18 314.98 L242.51 314.98 L242.51 318.51 L239.18 318.51 L239.18 323.02 L243.0 323.02 L243.0 321.25"/>
<path class="cj" d="M244.29 314.98 L248.9 314.98 M244.0 317.33 L249.19 317.33 M245.66 314.98 L245.66 317.92 L244.78 319.88 M247.62 314.98 L247.62 319.88 M250.56 314.98 L250.56 318.51 M252.72 314.0 L252.72 319.88 L251.84 319.49 M245.27 321.45 L252.23 321.45 M248.7 320.08 L248.7 323.6 M244.0 323.6 L253.4 323.6"/>
<path class="cj" d="M254.6 316.16 L264.0 316.16 M260.87 314.0 L261.26 317.92 L262.44 321.45 L264.1 323.7 L264.1 322.23 M262.44 314.2 L263.32 315.08 M255.38 318.7 L259.89 318.7 M257.63 318.7 L257.63 322.62 M254.79 323.21 L257.63 322.62 L260.28 322.04"/>
<path class="cj" d="M271.5 313.5 Q267 319 271.5 324.7"/>
<text class="n" x="275.7" y="323.3" font-size="11" font-weight="bold" text-anchor="middle">F</text>
<line class="m" x1="279.5" y1="319.3" x2="292" y2="319.3"/>
<path class="cj" d="M292.99 315.57 L302.11 315.57 M295.05 314.0 L295.05 317.14 M297.5 314.0 L297.5 317.14 M299.95 314.0 L299.95 317.14 M293.09 319.49 L293.09 318.12 L302.01 318.12 L302.01 319.49 M294.56 322.82 L294.56 320.08 L300.44 320.08 L300.44 322.82 L299.66 322.62 M297.5 318.51 L297.5 323.8"/>
<path class="cj" d="M303.4 323.7 L304.77 320.86 L305.16 317.92 L305.16 314.78 L310.65 314.78 L310.65 319.88 L311.43 322.82 L312.8 323.7 L312.9 322.04 M306.43 316.55 L309.67 321.45 M309.47 316.55 L306.34 321.45"/>
<path class="cj" d="M318.8 314.0 L319.19 314.98 M315.37 315.27 L322.33 315.27 L322.33 317.53 L315.37 317.53 M315.37 315.27 L315.37 319.88 L314.1 323.7 M316.84 319.1 L319.39 319.1 L319.39 323.7 L318.6 323.21 M317.23 320.27 L318.31 321.06 M317.04 322.62 L318.6 321.84 M320.37 319.1 L323.11 319.1 L323.11 323.7 L322.33 323.21 M320.76 320.27 L321.84 321.06 M320.56 322.62 L322.13 321.84"/>
<path class="cj" d="M326.5 313.5 Q331 319 326.5 324.7"/>
</g>
<defs><filter id="soft" x="0" y="0" width="600" height="424" filterUnits="userSpaceOnUse"><feGaussianBlur stdDeviation="0.3"/></filter></defs>
</svg>
</body></html>
